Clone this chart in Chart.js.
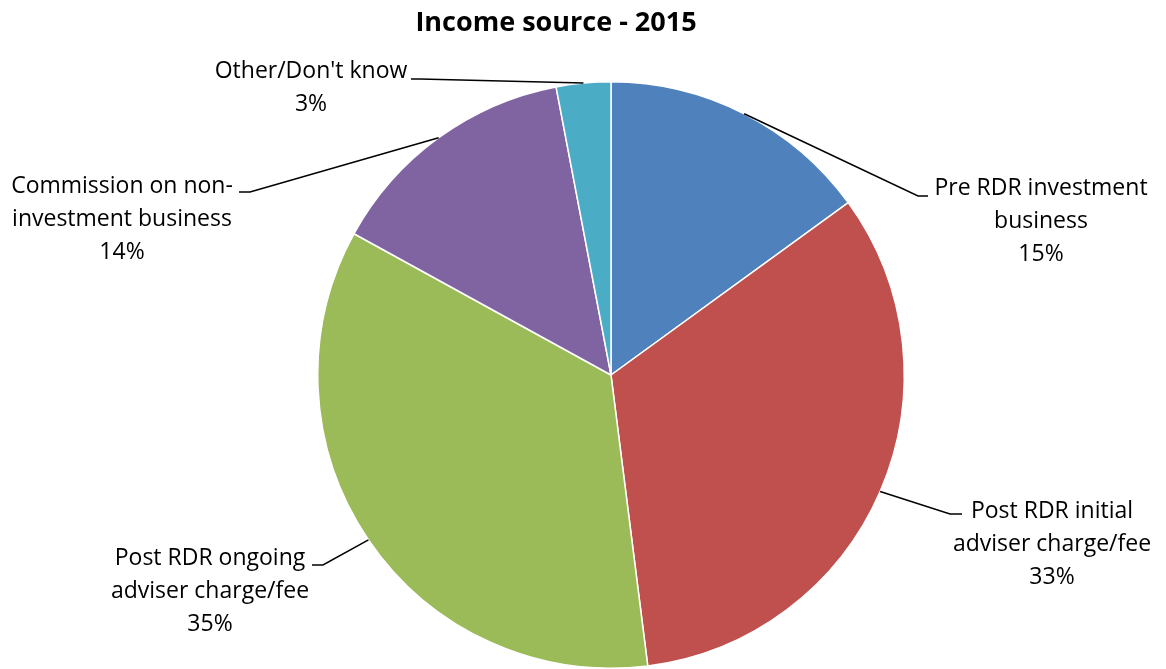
<!DOCTYPE html>
<html>
<head>
<meta charset="utf-8">
<script src="https://cdn.jsdelivr.net/npm/chart.js@4"></script>
<style>
 html, body { margin: 0; padding: 0; background: #fff; }
 #wrap { width: 1166px; height: 669px; position: relative; }
</style>
</head>
<body>
<div id="wrap"><canvas id="pie"></canvas></div>
<script>
// income source shares, 2015
const sources = [
 ['Pre RDR investment', 'business'],
 ['Post RDR initial', 'adviser charge/fee'],
 ['Post RDR ongoing', 'adviser charge/fee'],
 ['Commission on non-', 'investment business'],
 ['Other/Don\'t know']
];
const shares = [15, 33, 35, 14, 3];
const sliceColors = ['#4F81BD', '#C0504D', '#9BBB59', '#8064A2', '#4BACC6'];

const chartTitle = 'Income source - 2015';
const labelFont = '23px "Open Sans", sans-serif';
const lineGap = 33;

// where each label block sits and where its leader line bends
const labelSpots = [
 { cx: 1041, cy: 188, bend: [918, 196], end: [928, 196] },
 { cx: 1052, cy: 511, bend: [950, 514], end: [962, 514] },
 { cx: 210, cy: 558, bend: [323, 565], end: [312, 565] },
 { cx: 122, cy: 186, bend: [250, 192], end: [239, 192] },
 { cx: 311, cy: 71, bend: [420, 79], end: [411, 79] }
];

const outsideLabels = {
 id: 'outsideLabels',
 afterDraw(chart) {
  const ctx = chart.ctx;
  const arcs = chart.getDatasetMeta(0).data;
  ctx.save();

  // title
  ctx.fillStyle = '#000';
  ctx.font = 'bold 27px "Open Sans", sans-serif';
  ctx.textAlign = 'center';
  ctx.textBaseline = 'middle';
  ctx.fillText(chartTitle, 556, 23);

  arcs.forEach((arc, i) => {
   const p = arc.getProps(['x', 'y', 'startAngle', 'endAngle', 'outerRadius'], true);
   const mid = (p.startAngle + p.endAngle) / 2;
   const sx = p.x + Math.cos(mid) * p.outerRadius;
   const sy = p.y + Math.sin(mid) * p.outerRadius;
   const spot = labelSpots[i];

   ctx.strokeStyle = '#000';
   ctx.lineWidth = 1.5;
   ctx.beginPath();
   ctx.moveTo(sx, sy);
   ctx.lineTo(spot.bend[0], spot.bend[1]);
   ctx.lineTo(spot.end[0], spot.end[1]);
   ctx.stroke();

   const lines = sources[i].concat([shares[i] + '%']);
   ctx.font = labelFont;
   ctx.fillStyle = '#000';
   lines.forEach((txt, k) => {
    ctx.fillText(txt, spot.cx, spot.cy + k * lineGap);
   });
  });
  ctx.restore();
 }
};

new Chart(document.getElementById('pie'), {
 type: 'pie',
 data: {
  labels: sources.map(s => s.join(' ')),
  datasets: [{
   data: shares,
   backgroundColor: sliceColors,
   borderColor: '#ffffff',
   borderWidth: 1.5
  }]
 },
 options: {
  responsive: true,
  maintainAspectRatio: false,
  animation: false,
  layout: { padding: { left: 317, right: 261, top: 81, bottom: 0 } },
  plugins: {
   legend: { display: false },
   tooltip: { enabled: false },
   title: { display: false }
  }
 },
 plugins: [outsideLabels]
});
</script>
</body>
</html>
